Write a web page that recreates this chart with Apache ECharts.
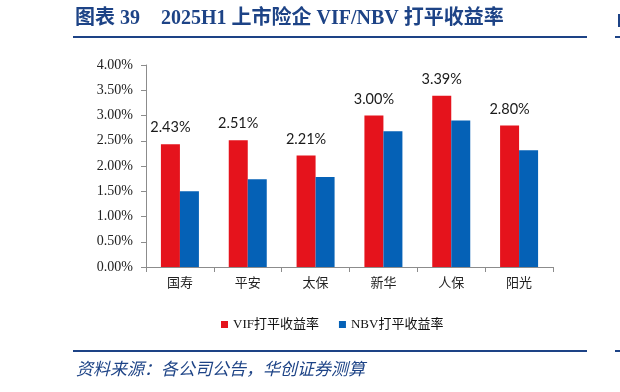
<!DOCTYPE html>
<html><head><meta charset="utf-8">
<script src="https://cdn.jsdelivr.net/npm/echarts@6/dist/echarts.min.js"></script>
<style>html,body{margin:0;padding:0;background:#fff}#c{width:620px;height:392px}</style>
</head><body><div id="c"></div>
<script>
const categories = ['国寿','平安','太保','新华','人保','阳光'];
const vifValues = [2.43, 2.51, 2.21, 3.00, 3.39, 2.80];
const nbvValues = [1.50, 1.74, 1.78, 2.69, 2.90, 2.31];
const yTicks = {min: 0, max: 4, interval: 0.5};
const seriesNames = ['VIF打平收益率', 'NBV打平收益率'];
const titleParts = ['图表 39', '2025H1 上市险企 VIF/NBV 打平收益率'];
const sourceText = '资料来源：各公司公告，华创证券测算';

const navy = '#1d4386';
const chart = echarts.init(document.getElementById('c'), null, {renderer: 'canvas'});
chart.setOption({
  animation: false,
  backgroundColor: '#fff',
  grid: {left: 146, right: 67, top: 65, bottom: 125, containLabel: false},
  legend: {
    data: seriesNames, top: 313, left: 216, itemWidth: 7, itemHeight: 7, itemGap: 20,
    icon: 'rect',
    textStyle: {fontFamily: '"Liberation Serif","Noto Sans CJK SC"', fontSize: 13, color: '#111'}
  },
  xAxis: {
    type: 'category', data: categories,
    axisLine: {lineStyle: {color: '#8c8c8c', width: 1}},
    axisTick: {show: true, length: 5, lineStyle: {color: '#8c8c8c'}},
    axisLabel: {fontFamily: '"Liberation Serif","Noto Sans CJK SC"', fontSize: 13, color: '#222', margin: 10}
  },
  yAxis: {
    type: 'value', min: yTicks.min, max: yTicks.max, interval: yTicks.interval,
    axisLine: {show: true, lineStyle: {color: '#8c8c8c'}},
    axisTick: {show: true, length: 5, inside: false, lineStyle: {color: '#8c8c8c'}},
    splitLine: {show: false},
    axisLabel: {fontFamily: '"Liberation Serif","Times New Roman"', fontSize: 14, color: '#222', margin: 13,
      formatter: v => v.toFixed(2) + '%'}
  },
  series: [
    {name: seriesNames[0], type: 'bar', data: vifValues, barWidth: 19, barGap: '0%',
     itemStyle: {color: '#e5131c'},
     label: {show: true, position: 'top', distance: 9, formatter: p => p.value.toFixed(2) + '%',
       fontFamily: 'Lato, "Noto Sans"', fontSize: 14.5, color: '#1a1a1a'}},
    {name: seriesNames[1], type: 'bar', data: nbvValues, barWidth: 19,
     itemStyle: {color: '#0561b6'}}
  ],
  graphic: [
    {type: 'text', left: 75, top: 9, style: {text: titleParts[0], fill: navy,
      font: 'bold 20px "Liberation Serif","Noto Sans CJK SC"'}},
    {type: 'text', left: 161, top: 9, style: {text: titleParts[1], fill: navy,
      font: 'bold 20px "Liberation Serif","Noto Sans CJK SC"'}},
    {type: 'rect', shape: {x: 73, y: 36, width: 514, height: 2}, style: {fill: navy}},
    {type: 'rect', shape: {x: 615, y: 36, width: 5, height: 2}, style: {fill: navy}},
    {type: 'rect', shape: {x: 618, y: 14, width: 2, height: 13}, style: {fill: navy}},
    {type: 'rect', shape: {x: 73, y: 350, width: 514, height: 2}, style: {fill: navy}},
    {type: 'rect', shape: {x: 615, y: 350, width: 5, height: 2}, style: {fill: navy}},
    {type: 'text', left: 76, top: 360, style: {text: sourceText, fill: navy,
      font: 'italic 17px "Noto Sans CJK SC"'}}
  ]
});
</script></body></html>
